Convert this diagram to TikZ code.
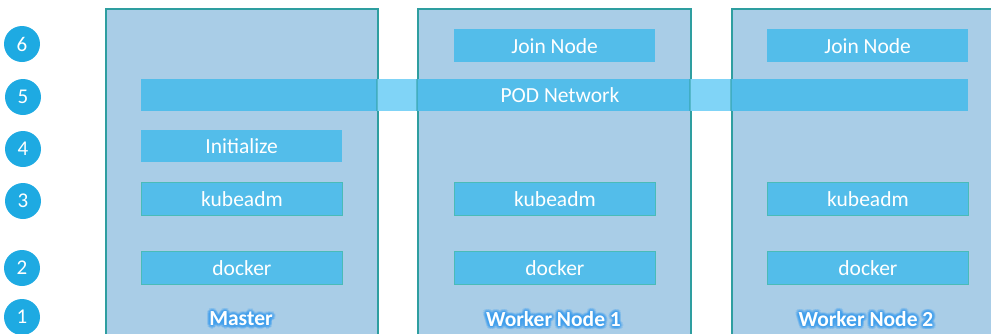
\documentclass[tikz,border=0pt]{standalone}
\usepackage{fontspec}
\setmainfont{Carlito}
\definecolor{boxfill}{HTML}{A9CDE7}
\definecolor{boxline}{HTML}{2E9EA0}
\definecolor{barc}{HTML}{53BDEA}
\definecolor{barlight}{HTML}{80D4F7}
\definecolor{barline}{HTML}{4ABBB8}
\definecolor{circ}{HTML}{1EAAE2}
\definecolor{glowc}{HTML}{3F9FEF}
\tikzset{
  hostbox/.style={rectangle, fill=boxfill, draw=boxline, line width=1.5pt, inner sep=0pt, anchor=north west, minimum height=340pt},
  stepbar/.style={rectangle, fill=barc, inner sep=0pt, anchor=north west, minimum width=201pt, minimum height=33pt, text=white, font=\fontsize{21.5}{23}\selectfont},
  edgebar/.style={stepbar, draw=barline, line width=0.9pt},
  numcirc/.style={circle, fill=circ, inner sep=0pt, minimum size=36pt, text=white, font=\fontsize{21}{22}\selectfont},
  glowtxt/.style={text=glowc, opacity=0.22, font=\fontsize{21.5}{23}\selectfont\bfseries, inner sep=0pt},
  hosttxt/.style={text=white, font=\fontsize{21.5}{23}\selectfont\bfseries, inner sep=0pt}
}
\newcommand{\glowlabel}[3]{%
  \foreach \r in {1.2,2.4,3.4}{\foreach \a in {0,30,...,330}{\path (#2) ++(\a:\r pt) node[glowtxt] {#3};}}%
  \node[hosttxt] (#1) at (#2) {#3};}
\begin{document}
\begin{tikzpicture}[x=1pt,y=-1pt]
\useasboundingbox (0,0) rectangle (991,333);
% host boxes
\node[hostbox, minimum width=272pt] (master) at (105,8) {};
\node[hostbox, minimum width=273pt] (w1) at (417,8) {};
\node[hostbox, minimum width=273pt] (w2) at (731,8) {};
% POD network: light outside, darker over the boxes
\node[stepbar, fill=barlight, minimum width=827pt, minimum height=32pt] (pod) at (141,79) {};
\fill[barc] (141,79) rectangle (377,111);
\fill[barc] (417,79) rectangle (690,111);
\fill[barc] (731,79) rectangle (968,111);
\draw[boxline, line width=1.5pt, opacity=0.5] (377,79) -- (377,111) (417,79) -- (417,111) (690,79) -- (690,111) (731,79) -- (731,111);
\node[text=white, font=\fontsize{21.5}{23}\selectfont, inner sep=0pt] (podtxt) at (560,95.5) {POD Network};
% join node
\node[stepbar] (join1) at (454,29) {Join Node};
\node[stepbar] (join2) at (767,29) {Join Node};
% initialize
\node[stepbar, minimum height=32pt] (init) at (141,130) {Initialize};
% kubeadm
\node[edgebar] (kube0) at (141,182) {kubeadm};
\node[edgebar] (kube1) at (454,182) {kubeadm};
\node[edgebar] (kube2) at (767,182) {kubeadm};
% docker
\node[edgebar] (dock0) at (141,251) {docker};
\node[edgebar] (dock1) at (454,251) {docker};
\node[edgebar] (dock2) at (767,251) {docker};
% host labels
\glowlabel{lmaster}{241,319}{Master}
\glowlabel{lw1}{553.5,319}{Worker Node 1}
\glowlabel{lw2}{866,319}{Worker Node 2}
% step numbers
\node[numcirc] (n6) at (22,44) {6};
\node[numcirc] (n5) at (23,97) {5};
\node[numcirc] (n4) at (23,149) {4};
\node[numcirc] (n3) at (23,201) {3};
\node[numcirc] (n2) at (22,268) {2};
\node[numcirc] (n1) at (22,317) {1};
\end{tikzpicture}
\end{document}
